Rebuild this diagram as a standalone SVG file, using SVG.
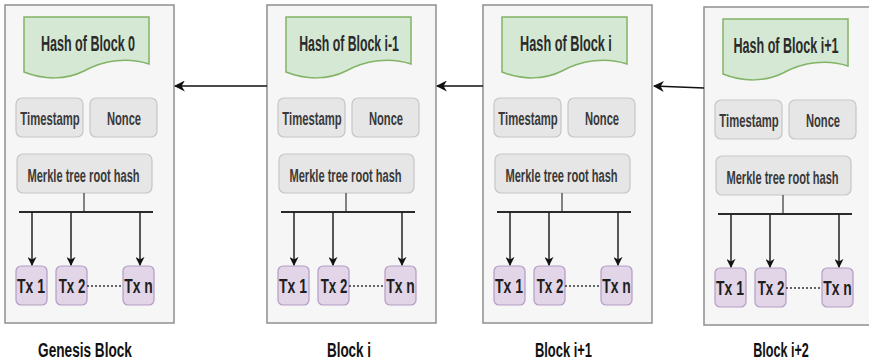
<svg xmlns="http://www.w3.org/2000/svg" width="869" height="363" viewBox="0 0 869 363">
  <style>
    .outer { fill: #f6f6f6; stroke: #8f8f8f; stroke-width: 1.5; }
    .hash { fill: #d5e8d4; stroke: #82b366; stroke-width: 1.5; }
    .field { fill: #e6e6e6; stroke: #c6c6c6; stroke-width: 1.2; }
    .tx { fill: #e1d5e7; stroke: #b49cc4; stroke-width: 1.2; }
    .t { font-family: "Liberation Sans", Arial, sans-serif; font-weight: bold; text-anchor: middle; }
    .th { font-size: 22px; fill: #2b2b2b; }
    .tf { font-size: 18px; fill: #3a3a3a; }
    .tm { font-size: 19px; fill: #3a3a3a; }
    .tt { font-size: 21px; fill: #1e1e1e; }
    .tl { font-size: 20px; fill: #111; }
    .bus { stroke: #2a2a2a; stroke-width: 2; fill: none; }
    .stem { stroke: #444; stroke-width: 1.3; fill: none; }
    .down { stroke: #222; stroke-width: 1.5; fill: none; marker-end: url(#head); }
    .dots { stroke: #333; stroke-width: 1.5; stroke-dasharray: 2 2; fill: none; }
    .link { stroke: #111; stroke-width: 1.6; fill: none; marker-end: url(#headL); }
  </style>
  <defs>
    <marker id="head" viewBox="0 0 10 10" refX="9" refY="5" markerWidth="9" markerHeight="9" markerUnits="userSpaceOnUse" orient="auto">
      <path d="M0,0 L10,5 L0,10 L3,5 Z" fill="#111"/>
    </marker>
    <marker id="headL" viewBox="0 0 10 10" refX="9" refY="5" markerWidth="11" markerHeight="11" markerUnits="userSpaceOnUse" orient="auto">
      <path d="M0,0 L10,5 L0,10 L3,5 Z" fill="#111"/>
    </marker>
    <path id="doc" d="M24,17 H149 V64 C128,57 104,60 84,71 C66,80 44,80 24,72 Z"/>
  </defs>

  <!-- Genesis block -->
  <g id="block0">
    <rect class="outer" x="5" y="5" width="169" height="318"/>
    <use href="#doc" class="hash"/>
    <text class="t th" transform="translate(88,51) scale(0.6,1)" textLength="157" lengthAdjust="spacingAndGlyphs">Hash of Block 0</text>
    <rect class="field" x="16" y="98" width="67" height="39" rx="6"/>
    <text class="t tf" transform="translate(50,125) scale(0.6,1)" textLength="99" lengthAdjust="spacingAndGlyphs">Timestamp</text>
    <rect class="field" x="90" y="98" width="67" height="39" rx="6"/>
    <text class="t tf" transform="translate(124,125) scale(0.6,1)" textLength="57" lengthAdjust="spacingAndGlyphs">Nonce</text>
    <rect class="field" x="17" y="154" width="135" height="39" rx="6"/>
    <text class="t tm" transform="translate(83.5,181.5) scale(0.6,1)" textLength="187" lengthAdjust="spacingAndGlyphs">Merkle tree root hash</text>
    <rect class="tx" x="16" y="266" width="31" height="39" rx="5"/>
    <text class="t tt" transform="translate(31,293) scale(0.65,1)" textLength="43" lengthAdjust="spacingAndGlyphs">Tx 1</text>
    <rect class="tx" x="56" y="266" width="31" height="39" rx="5"/>
    <text class="t tt" transform="translate(72,293) scale(0.65,1)" textLength="41" lengthAdjust="spacingAndGlyphs">Tx 2</text>
    <rect class="tx" x="123" y="266" width="31" height="39" rx="5"/>
    <text class="t tt" transform="translate(138.5,293) scale(0.65,1)" textLength="44" lengthAdjust="spacingAndGlyphs">Tx n</text>
    <text class="t tl" transform="translate(85,356.5) scale(0.68,1)" textLength="138" lengthAdjust="spacingAndGlyphs">Genesis Block</text>
  </g>

  <!-- Block i -->
  <g id="block1" transform="translate(262,0)">
    <rect class="outer" x="5" y="5" width="169" height="318"/>
    <use href="#doc" class="hash"/>
    <text class="t th" transform="translate(87,51) scale(0.6,1)" textLength="166" lengthAdjust="spacingAndGlyphs">Hash of Block i-1</text>
    <rect class="field" x="16" y="98" width="67" height="39" rx="6"/>
    <text class="t tf" transform="translate(50,125) scale(0.6,1)" textLength="99" lengthAdjust="spacingAndGlyphs">Timestamp</text>
    <rect class="field" x="90" y="98" width="67" height="39" rx="6"/>
    <text class="t tf" transform="translate(124,125) scale(0.6,1)" textLength="57" lengthAdjust="spacingAndGlyphs">Nonce</text>
    <rect class="field" x="17" y="154" width="135" height="39" rx="6"/>
    <text class="t tm" transform="translate(83.5,181.5) scale(0.6,1)" textLength="187" lengthAdjust="spacingAndGlyphs">Merkle tree root hash</text>
    <rect class="tx" x="16" y="266" width="31" height="39" rx="5"/>
    <text class="t tt" transform="translate(31,293) scale(0.65,1)" textLength="43" lengthAdjust="spacingAndGlyphs">Tx 1</text>
    <rect class="tx" x="56" y="266" width="31" height="39" rx="5"/>
    <text class="t tt" transform="translate(72,293) scale(0.65,1)" textLength="41" lengthAdjust="spacingAndGlyphs">Tx 2</text>
    <rect class="tx" x="123" y="266" width="31" height="39" rx="5"/>
    <text class="t tt" transform="translate(138.5,293) scale(0.65,1)" textLength="44" lengthAdjust="spacingAndGlyphs">Tx n</text>
    <text class="t tl" transform="translate(87,356.5) scale(0.68,1)" textLength="65" lengthAdjust="spacingAndGlyphs">Block i</text>
  </g>

  <!-- Block i+1 -->
  <g id="block2" transform="translate(478,0)">
    <rect class="outer" x="5" y="5" width="169" height="318"/>
    <use href="#doc" class="hash"/>
    <text class="t th" transform="translate(88,51) scale(0.6,1)" textLength="153" lengthAdjust="spacingAndGlyphs">Hash of Block i</text>
    <rect class="field" x="16" y="98" width="67" height="39" rx="6"/>
    <text class="t tf" transform="translate(50,125) scale(0.6,1)" textLength="99" lengthAdjust="spacingAndGlyphs">Timestamp</text>
    <rect class="field" x="90" y="98" width="67" height="39" rx="6"/>
    <text class="t tf" transform="translate(124,125) scale(0.6,1)" textLength="57" lengthAdjust="spacingAndGlyphs">Nonce</text>
    <rect class="field" x="17" y="154" width="135" height="39" rx="6"/>
    <text class="t tm" transform="translate(83.5,181.5) scale(0.6,1)" textLength="187" lengthAdjust="spacingAndGlyphs">Merkle tree root hash</text>
    <rect class="tx" x="16" y="266" width="31" height="39" rx="5"/>
    <text class="t tt" transform="translate(31,293) scale(0.65,1)" textLength="43" lengthAdjust="spacingAndGlyphs">Tx 1</text>
    <rect class="tx" x="56" y="266" width="31" height="39" rx="5"/>
    <text class="t tt" transform="translate(72,293) scale(0.65,1)" textLength="41" lengthAdjust="spacingAndGlyphs">Tx 2</text>
    <rect class="tx" x="123" y="266" width="31" height="39" rx="5"/>
    <text class="t tt" transform="translate(138.5,293) scale(0.65,1)" textLength="44" lengthAdjust="spacingAndGlyphs">Tx n</text>
    <text class="t tl" transform="translate(85.5,356.5) scale(0.68,1)" textLength="84" lengthAdjust="spacingAndGlyphs">Block i+1</text>
  </g>

  <!-- Block i+2 -->
  <g id="block3" transform="translate(699,2)">
    <rect class="outer" x="5" y="5" width="169" height="318"/>
    <use href="#doc" class="hash"/>
    <text class="t th" transform="translate(87,51) scale(0.6,1)" textLength="175" lengthAdjust="spacingAndGlyphs">Hash of Block i+1</text>
    <rect class="field" x="16" y="98" width="67" height="39" rx="6"/>
    <text class="t tf" transform="translate(50,125) scale(0.6,1)" textLength="99" lengthAdjust="spacingAndGlyphs">Timestamp</text>
    <rect class="field" x="90" y="98" width="67" height="39" rx="6"/>
    <text class="t tf" transform="translate(124,125) scale(0.6,1)" textLength="57" lengthAdjust="spacingAndGlyphs">Nonce</text>
    <rect class="field" x="17" y="154" width="135" height="39" rx="6"/>
    <text class="t tm" transform="translate(83.5,181.5) scale(0.6,1)" textLength="187" lengthAdjust="spacingAndGlyphs">Merkle tree root hash</text>
    <rect class="tx" x="16" y="266" width="31" height="39" rx="5"/>
    <text class="t tt" transform="translate(31,293) scale(0.65,1)" textLength="43" lengthAdjust="spacingAndGlyphs">Tx 1</text>
    <rect class="tx" x="56" y="266" width="31" height="39" rx="5"/>
    <text class="t tt" transform="translate(72,293) scale(0.65,1)" textLength="41" lengthAdjust="spacingAndGlyphs">Tx 2</text>
    <rect class="tx" x="123" y="266" width="31" height="39" rx="5"/>
    <text class="t tt" transform="translate(138.5,293) scale(0.65,1)" textLength="44" lengthAdjust="spacingAndGlyphs">Tx n</text>
    <text class="t tl" transform="translate(82,354.5) scale(0.68,1)" textLength="82" lengthAdjust="spacingAndGlyphs">Block i+2</text>
  </g>

  <!-- Connectors: merkle fan-out inside each block, and the hash links between blocks -->
  <g id="connectors">
    <g id="fan0">
      <path class="stem" d="M84,193 V212"/>
      <path class="bus" d="M19,212 H153"/>
      <path class="down" d="M32,212 V265"/>
      <path class="down" d="M71,212 V265"/>
      <path class="down" d="M140,212 V265"/>
      <path class="dots" d="M87,286 H123"/>
    </g>
    <g id="fan1" transform="translate(262,0)">
      <path class="stem" d="M84,193 V212"/>
      <path class="bus" d="M19,212 H153"/>
      <path class="down" d="M32,212 V265"/>
      <path class="down" d="M71,212 V265"/>
      <path class="down" d="M140,212 V265"/>
      <path class="dots" d="M87,286 H123"/>
    </g>
    <g id="fan2" transform="translate(478,0)">
      <path class="stem" d="M84,193 V212"/>
      <path class="bus" d="M19,212 H153"/>
      <path class="down" d="M32,212 V265"/>
      <path class="down" d="M71,212 V265"/>
      <path class="down" d="M140,212 V265"/>
      <path class="dots" d="M87,286 H123"/>
    </g>
    <g id="fan3" transform="translate(699,2)">
      <path class="stem" d="M84,193 V212"/>
      <path class="bus" d="M19,212 H153"/>
      <path class="down" d="M32,212 V265"/>
      <path class="down" d="M71,212 V265"/>
      <path class="down" d="M140,212 V265"/>
      <path class="dots" d="M87,286 H123"/>
    </g>
    <path class="link" d="M267,86 H175"/>
    <path class="link" d="M483,86 H437"/>
    <path class="link" d="M704,88 L654,86"/>
  </g>
</svg>
